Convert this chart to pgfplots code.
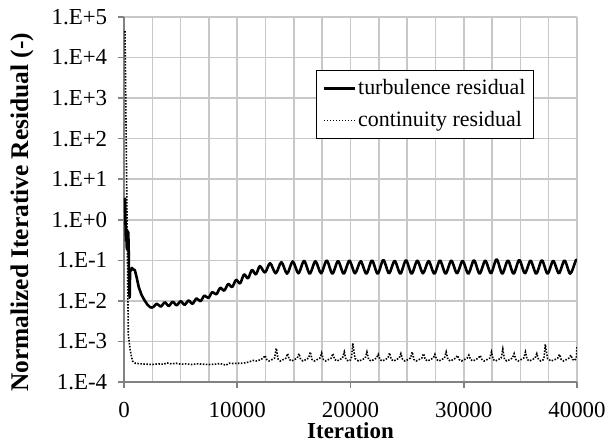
\documentclass[border=0pt]{standalone}
\usepackage{fontspec}
\setmainfont{Liberation Serif}
\usepackage{pgfplots}
\pgfplotsset{compat=1.18}
\definecolor{gridc}{RGB}{200,200,200}
\definecolor{axc}{RGB}{130,130,130}
\begin{document}
\fontsize{23}{27}\selectfont
\begin{tikzpicture}
\useasboundingbox (-124bp,-61bp) rectangle (483bp,382bp);
\begin{axis}[
  scale only axis, width=453bp, height=365bp,
  at={(0,0)}, anchor=south west,
  xmin=0, xmax=40000, ymin=1e-4, ymax=1e5, ymode=log,
  xtick={0,10000,20000,30000,40000},
  xticklabels={0,10000,20000,30000,40000},
  scaled x ticks=false,
  minor xtick={2500,5000,...,37500},
  ytick={1e-4,1e-3,1e-2,1e-1,1,1e1,1e2,1e3,1e4,1e5},
  yticklabels={1.E-4,1.E-3,1.E-2,1.E-1,1.E+0,1.E+1,1.E+2,1.E+3,1.E+4,1.E+5},
  grid=both, yminorgrids=false,
  major grid style={gridc, line width=1.6bp},
  minor grid style={gridc, line width=1.6bp},
  axis x line*=bottom, axis y line*=left,
  axis line style={-, axc, line width=1.6bp},
  tick align=outside, major tick length=6bp, minor tick length=0pt,
  tick style={axc, line width=1.6bp},
  tick label style={font=\fontsize{23}{27}\selectfont, black},
  xticklabel style={yshift=-6bp},
  yticklabel style={xshift=-3bp},
  every axis x label/.style={at={(axis description cs:0.5,0)}, anchor=center, yshift=-48.5bp},
  every axis y label/.style={at={(axis description cs:0,0.465)}, xshift=-102bp, rotate=90, anchor=center},
  xlabel={\fontsize{23}{27}\selectfont\bfseries Iteration},
  ylabel={\fontsize{25.5}{30}\selectfont\bfseries Normalized Iterative Residual (-)},
  legend style={at={(0.424,0.855)}, anchor=north west, draw=black, line width=1bp, fill=white,
    font=\fontsize{22}{26}\selectfont, inner xsep=6bp, inner ysep=7bp, row sep=9bp, cells={anchor=west}},
  legend image code/.code={\draw[#1] (7bp,0bp) -- (38bp,0bp);},
  clip=true,
]
\addplot[black, line width=2.6bp, line join=round] coordinates {
(90,3.5) (130,0.9) (170,0.3) (210,0.6) (250,0.19) (290,0.55) (340,0.35) (380,0.5)
(420,0.15) (460,0.02) (500,0.012) (540,0.06) (600,0.055) (700,0.065) (800,0.06)
(950,0.058) (1100,0.04) (1300,0.022) (1550,0.014) (1800,0.0105) (2050,0.0082)
(2300,0.007) (2550,0.0068)
};
\addlegendentry{turbulence residual}
\addplot[black, line width=2.6bp, line join=round, smooth, tension=0.5, forget plot] coordinates {
(2550,0.0068) (2900,0.0085) (3250,0.0072) (3600,0.0092) (3950,0.0075) (4300,0.0095)
(4650,0.0078) (5000,0.0098) (5350,0.0080) (5700,0.0102) (6050,0.0085) (6400,0.0115)
(6750,0.0098) (7100,0.0135) (7450,0.0118) (7800,0.0165) (8150,0.0145) (8500,0.021)
(8850,0.018) (9200,0.026) (9550,0.022) (9900,0.033) (10250,0.027) (10600,0.045)
(10950,0.036) (11300,0.058) (11650,0.045) (12000,0.072) (12450,0.050)
(12900,0.085) (13400,0.048) (13900,0.090) (14400,0.047) (14900,0.094) (15400,0.048)
(15900,0.097) (16400,0.047) (16900,0.095) (17400,0.048) (17900,0.099) (18400,0.047)
(18900,0.096) (19400,0.047) (19900,0.098) (20400,0.048) (20900,0.095) (21400,0.047)
(21900,0.099) (22400,0.047) (22900,0.102) (23400,0.048) (23900,0.097) (24400,0.047)
(24900,0.100) (25400,0.047) (25900,0.098) (26400,0.048) (26900,0.096) (27400,0.047)
(27900,0.099) (28400,0.047) (28900,0.098) (29400,0.048) (29900,0.097) (30400,0.047)
(30900,0.100) (31400,0.047) (31900,0.098) (32400,0.048) (32900,0.106) (33400,0.047)
(33900,0.099) (34400,0.047) (34900,0.102) (35400,0.048) (35900,0.098) (36400,0.047)
(36900,0.100) (37400,0.047) (37900,0.097) (38400,0.048) (38900,0.099) (39400,0.047)
(39900,0.100) (40000,0.098)
};
\addplot[black, line width=1.6bp, dash pattern=on 1.5bp off 1.5bp] coordinates {
(90,4.5e4) (380,1.5e-3) (550,6e-4) (750,3.3e-4) (1000,2.9e-4) (1500,2.8e-4)
(2000,2.75e-4) (2500,2.7e-4) (3000,2.8e-4) (3500,2.75e-4) (3800,2.95e-4) (4200,2.8e-4)
(4600,2.9e-4) (5000,2.75e-4) (5500,2.8e-4) (6000,2.7e-4) (6500,2.8e-4) (7000,2.75e-4)
(7500,2.7e-4) (8000,2.75e-4) (8500,2.85e-4) (9000,2.6e-4) (9300,2.9e-4) (9700,2.85e-4)
(10000,2.9e-4) (10500,2.9e-4) (11000,3.1e-4) (11400,3.4e-4) (11700,3.3e-4)
(12000,3.5e-4) (12300,3.9e-4) (12450,4.5e-4) (12600,3.6e-4) (12800,3.3e-4)
(13000,3.5e-4) (13300,3.9e-4) (13450,6.8e-4) (13600,3.7e-4) (13800,3.3e-4)
(14000,3.5e-4) (14300,3.9e-4) (14450,5.0e-4) (14600,3.6e-4) (14800,3.3e-4)
(15000,3.5e-4) (15300,3.9e-4) (15450,5.0e-4) (15600,3.6e-4) (15800,3.3e-4)
(16000,3.5e-4) (16300,3.9e-4) (16450,5.5e-4) (16600,3.6e-4) (16800,3.3e-4)
(17000,3.5e-4) (17300,3.9e-4) (17450,5.2e-4) (17600,3.6e-4) (17800,3.3e-4)
(18000,3.5e-4) (18300,3.9e-4) (18450,5.0e-4) (18600,3.6e-4) (18800,3.3e-4)
(19000,3.5e-4) (19300,3.9e-4) (19450,5.5e-4) (19600,3.6e-4) (19800,3.3e-4)
(20000,3.5e-4) (20100,4.2e-4) (20200,9.0e-4) (20400,3.8e-4) (20700,3.3e-4)
(21000,3.5e-4) (21300,3.9e-4) (21450,5.5e-4) (21600,3.6e-4) (21800,3.3e-4)
(22000,3.5e-4) (22300,3.9e-4) (22450,4.8e-4) (22600,3.6e-4) (22800,3.3e-4)
(23000,3.5e-4) (23300,3.9e-4) (23450,5.2e-4) (23600,3.6e-4) (23800,3.3e-4)
(24000,3.5e-4) (24300,3.9e-4) (24450,5.0e-4) (24600,3.6e-4) (24800,3.3e-4)
(25000,3.5e-4) (25300,3.9e-4) (25450,5.5e-4) (25600,3.6e-4) (25800,3.3e-4)
(26000,3.5e-4) (26300,3.9e-4) (26450,5.0e-4) (26600,3.6e-4) (26800,3.3e-4)
(27000,3.5e-4) (27300,3.9e-4) (27450,4.8e-4) (27600,3.6e-4) (27800,3.3e-4)
(28000,3.5e-4) (28300,3.9e-4) (28450,5.5e-4) (28600,3.6e-4) (28800,3.3e-4)
(29000,3.5e-4) (29300,3.9e-4) (29450,4.5e-4) (29600,3.6e-4) (29800,3.3e-4)
(30000,3.5e-4) (30300,3.9e-4) (30450,4.6e-4) (30600,3.6e-4) (30800,3.3e-4)
(31000,3.5e-4) (31300,3.9e-4) (31450,4.5e-4) (31600,3.6e-4) (31800,3.3e-4)
(32000,3.5e-4) (32300,3.9e-4) (32450,5.5e-4) (32600,3.6e-4) (32800,3.3e-4)
(33000,3.5e-4) (33300,3.9e-4) (33450,6.5e-4) (33600,3.6e-4) (33800,3.3e-4)
(34000,3.5e-4) (34300,3.9e-4) (34450,5.0e-4) (34600,3.6e-4) (34800,3.3e-4)
(35000,3.5e-4) (35300,3.9e-4) (35450,5.5e-4) (35600,3.6e-4) (35800,3.3e-4)
(36000,3.5e-4) (36300,3.9e-4) (36450,5.0e-4) (36600,3.6e-4) (36800,3.3e-4)
(37000,3.5e-4) (37100,4.2e-4) (37200,8.5e-4) (37400,3.8e-4) (37700,3.3e-4)
(38000,3.5e-4) (38300,3.9e-4) (38450,4.8e-4) (38600,3.6e-4) (38800,3.3e-4)
(39000,3.5e-4) (39300,3.9e-4) (39450,4.6e-4) (39600,3.6e-4) (39800,3.4e-4)
(39950,4.0e-4) (40000,7.5e-4)
};
\addlegendentry{continuity residual}
\end{axis}
\end{tikzpicture}
\end{document}
